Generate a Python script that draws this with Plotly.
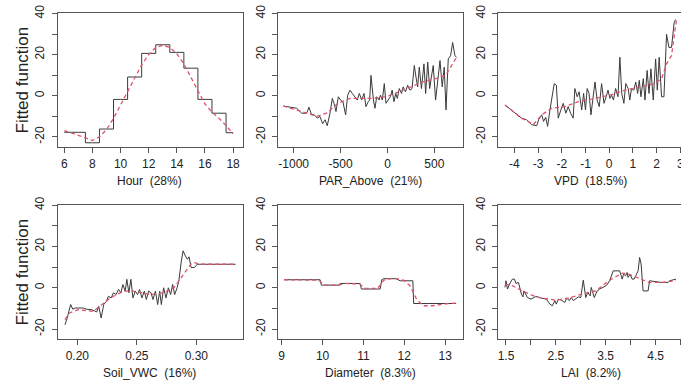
import plotly.graph_objects as go

# ---------------- data ----------------
hour_x = [6, 7, 8, 9, 10, 11, 12, 13, 14, 15, 16, 17, 18]
hour_y = [-17.8, -17.8, -22.9, -16.2, -1.8, 9.1, 20.6, 24.8, 21.1, 13.4, -1.8, -8.5, -18.0]
hour_sx = [6, 6.5, 7, 7.5, 8, 8.5, 9, 9.5, 10, 10.5, 11, 11.5, 12, 12.5, 13, 13.5,
           14, 14.5, 15, 15.5, 16, 16.5, 17, 17.5, 18]
hour_sy = [-17, -18, -19.3, -20.5, -21.8, -20, -16.5, -11, -4.5, 2, 9, 15, 20, 23.5, 24.5, 23.5,
           20.5, 15.5, 9, 2.5, -4, -8, -11, -14.5, -18.5]

par_x = [-1111, -968, -915, -862, -837, -809, -780, -748, -720, -691, -665, -642, -613, -588, -570,
         -549, -524, -500, -475, -446, -424, -400, -375, -350, -322, -300, -275, -250, -229, -205,
         -190, -176, -150, -133, -115, -90, -75, -55, -34, -16, 5, 30, 50, 69, 88, 105, 126, 150,
         168, 192, 215, 240, 262, 286, 304, 322, 339, 362, 389, 407, 429, 450, 468, 488, 513, 530,
         560, 584, 605, 624, 648, 673, 695, 719, 737]
par_y = [-5, -6.1, -8.5, -8.5, -5.6, -9.3, -9.3, -10.9, -10.1, -13.6, -11.7, -14.6, -8.5, -1.3, -3.7,
         -7.7, -0.5, -2.1, -2.9, -9.3, 0.3, 2.7, 1.1, -0.5, -2.1, 1.1, -2.1, 1.1, -5.3, -2.9,
         -2.1, 9.9, -2.1, -6.1, -0.5, -2.1, 0.3, -2.1, 5.9, -3.7, -2.1, -0.5, 2.7, -2.9, 1.1, -1.3,
         3.5, 1.1, 4.3, 1.9, 5.1, 2.7, 3.5, 14.7, 9.1, 4.3, 13.9, 3.5, 15.5, 1.1, 16.3, 3.5, 9.1,
         14.7, -2.1, 5.9, 17.1, 4.3, 13.9, -6.9, 17.9, 19.5, 25.9, 19.5, 18.7]
par_sx = [-1111, -862, -750, -650, -530, -400, -180, -10, 130, 250, 375, 515, 620, 670, 737]
par_sy = [-5, -8.5, -10, -8.5, -3.7, -1.3, -1.3, -0.5, 1.9, 4.3, 6.7, 8.3, 9.9, 13.9, 18.7]

vpd_x = [-4.40, -3.98, -3.70, -3.49, -3.27, -3.06, -2.97, -2.85, -2.77, -2.68, -2.60, -2.50, -2.32,
         -2.23, -2.15, -2.04, -1.94, -1.83, -1.73, -1.63, -1.52, -1.45, -1.35, -1.27, -1.16, -1.08,
         -1.00, -0.93, -0.85, -0.77, -0.68, -0.60, -0.51, -0.42, -0.32, -0.22, -0.13, -0.05, 0.03,
         0.10, 0.18, 0.27, 0.37, 0.45, 0.53, 0.62, 0.70, 0.80, 0.87, 0.94, 1.04, 1.12, 1.20, 1.27,
         1.34, 1.44, 1.51, 1.60, 1.68, 1.76, 1.86, 1.96, 2.03, 2.11, 2.21, 2.31, 2.42, 2.52, 2.63,
         2.74, 2.80]
vpd_y = [-4.5, -8.5, -10.9, -11.7, -14.1, -14.6, -11.5, -9.3, -12.5, -10.5, -14.9, -6.9, 5.9,
         5.1, -10.9, -6.9, -3.7, -8.5, -5.3, -8.5, -10.9, 3.5, -0.5, 1.9, -6.9, 1.1, -6.9, 3.5,
         1.1, -9.3, -0.5, 6.7, -2.1, -5.3, 5.9, -3.7, -0.5, 2.7, -1.3, 0.3, -2.1, 3.5, -0.5, 18.7,
         1.1, -3.7, 5.9, 3.5, -2.1, 3.5, 2.7, 6.7, 1.1, 7.5, -0.5, 8.3, -2.1, 12.3, 1.1, 13.1,
         -2.1, 17.9, 2.7, 18.7, -0.5, -0.5, 29.9, 23.5, 23.5, 35.5, 37.1]
vpd_sx = [-4.40, -3.98, -3.70, -3.42, -3.20, -2.85, -2.43, -1.87, -1.30, -0.60, 0.03, 0.66, 1.37,
          1.93, 2.21, 2.42, 2.63, 2.77, 2.84]
vpd_sy = [-4.5, -8.5, -10.9, -12.5, -14.1, -9.3, -6.1, -5.3, -2.9, -1.3, 0.3, 2.7, 4.3, 5.9, 8.3,
          15.5, 19.5, 29.9, 37.1]

soil_x = [0.1896, 0.1913, 0.1944, 0.1962, 0.1980, 0.2022, 0.2050, 0.2080, 0.2121, 0.2163, 0.2180,
          0.2200, 0.2222, 0.2244, 0.2261, 0.2284, 0.2304, 0.2326, 0.2346, 0.2366, 0.2383, 0.2402,
          0.2416, 0.2433, 0.2450, 0.2467, 0.2487, 0.2506, 0.2523, 0.2543, 0.2563, 0.2580, 0.2599,
          0.2619, 0.2636, 0.2656, 0.2675, 0.2692, 0.2706, 0.2725, 0.2745, 0.2765, 0.2784, 0.2801,
          0.2818, 0.2838, 0.2853, 0.2874, 0.2889, 0.2908, 0.2925, 0.2939, 0.2956, 0.2984, 0.3007,
          0.3100, 0.3200, 0.3330]
soil_y = [-17.9, -15.0, -8.1, -10.4, -9.8, -9.8, -9.8, -10.4, -10.6, -11.7, -9.0, -14.6, -8.1, -6.5,
          -4.1, -4.9, -2.4, -3.3, -0.8, -2.4, 1.6, -1.6, 4.1, -2.4, 4.1, -4.9, -1.6, -3.3, -0.8,
          -4.9, -1.6, -5.7, -1.6, -2.4, -5.7, -1.6, -8.1, -1.6, -8.1, 0, -4.9, 0, -3.3, 1.6,
          -3.3, 0, 3.3, 13.0, 17.9, 15.4, 13.8, 15.0, 9.8, 9.8, 11.4, 11.4, 11.4, 11.4]
soil_sx = [0.1896, 0.1935, 0.2008, 0.2135, 0.2190, 0.2277, 0.2390, 0.2475, 0.2615, 0.2728, 0.2812,
           0.2882, 0.2953, 0.2981, 0.3037, 0.3150, 0.3330]
soil_sy = [-15.4, -12.2, -10.6, -11.4, -8.9, -4.9, -1.6, -1.6, -3.3, -2.4, 0, 5.7, 11.4, 12.2,
           11.4, 11.4, 11.4]

diam_x = [9.06, 9.94, 9.97, 10.40, 10.43, 10.92, 10.95, 11.41, 11.45, 11.50, 11.80, 11.90, 12.21,
          12.23, 12.60, 13.27]
diam_y = [3.9, 3.9, 1.3, 1.3, 2.1, 2.1, -0.6, -0.6, 4.0, 4.4, 4.4, 3.4, 3.4, -7.6, -7.6, -7.6]
diam_sx = [9.06, 9.90, 10.05, 10.40, 10.55, 10.91, 11.03, 11.35, 11.50, 11.74, 11.98, 12.14, 12.30,
           12.46, 12.70, 12.95, 13.27]
diam_sy = [3.9, 3.7, 1.3, 1.3, 2.1, 1.8, -0.3, -0.3, 3.7, 4.7, 3.7, 1.0, -5.5, -8.7, -8.7, -7.9,
           -7.4]

lai_x = [1.48, 1.50, 1.53, 1.57, 1.63, 1.67, 1.70, 1.75, 1.81, 1.84, 1.86, 1.93, 2.00, 2.10, 2.21,
         2.31, 2.38, 2.43, 2.48, 2.51, 2.55, 2.61, 2.68, 2.72, 2.77, 2.81, 2.85, 2.90, 2.95, 3.00,
         3.05, 3.10, 3.14, 3.19, 3.21, 3.27, 3.33, 3.38, 3.45, 3.51, 3.58, 3.65, 3.78, 3.83, 3.86,
         3.90, 3.93, 3.95, 3.99, 4.03, 4.07, 4.15, 4.18, 4.21, 4.25, 4.35, 4.38, 4.48, 4.61, 4.75,
         4.78, 4.91]
lai_y = [0.2, 3.4, -0.6, 1.8, 4.2, 4.2, 2.1, 2.6, -3.1, -4.4, -1.5, -4.7, -5.5, -4.2, -5.0,
         -5.5, -7.9, -8.7, -6.2, -7.9, -5.5, -6.0, -7.1, -5.0, -6.2, -4.7, -6.2, -5.5, -4.4, -4.7,
         3.7, -4.7, -2.3, -3.9, 0.2, -4.7, -1.5, -0.6, 0.2, 1.0, 3.4, 8.2, 8.2, 4.2, 6.6, 5.8,
         7.4, 5.0, 6.6, 4.2, 4.2, 8.2, 14.7, 11.5, -1.5, -1.5, 3.4, 3.1, 2.6, 2.6, 3.4, 4.2]
lai_sx = [1.48, 1.63, 1.83, 2.10, 2.36, 2.50, 2.76, 3.03, 3.30, 3.56, 3.83, 3.96, 4.16, 4.36, 4.63,
          4.91]
lai_sy = [1.8, 1.0, -1.5, -4.4, -5.5, -6.0, -5.0, -3.0, -1.5, 3.4, 7.1, 6.6, 4.7, 2.6, 2.6, 3.4]

titles = ["Hour  (28%)", "PAR_Above  (21%)", "VPD  (18.5%)",
          "Soil_VWC  (16%)", "Diameter  (8.3%)", "LAI  (8.2%)"]
y_label = "Fitted function"

# ---------------- layout helpers ----------------
W, H = 681, 385
FONT = "Liberation Sans, Arial, Helvetica, sans-serif"
BLACK = "#3a3a3a"
RED = "#DF536B"
AX = "#555555"

col_px = [(57.7, 242.5), (278.3, 462.7), (498.3, 681.0)]
row_px = [(13.3, 146.7), (205.0, 339.0)]

x_ranges = [[5.53, 18.67], [-1164, 802], [-4.68, 3.03],
            [0.1835, 0.3388], [8.917, 13.43], [1.346, 5.01]]
x_ticks = [
    ([6, 8, 10, 12, 14, 16, 18], ["6", "8", "10", "12", "14", "16", "18"]),
    ([-1000, -500, 0, 500], ["-1000", "-500", "0", "500"]),
    ([-4, -3, -2, -1, 0, 1, 2, 3], ["-4", "-3", "-2", "-1", "0", "1", "2", "3"]),
    ([0.20, 0.25, 0.30], ["0.20", "0.25", "0.30"]),
    ([9, 10, 11, 12, 13], ["9", "10", "11", "12", "13"]),
    ([1.5, 2, 2.5, 3, 3.5, 4, 4.5, 5], ["1.5", "", "2.5", "", "3.5", "", "4.5", ""]),
]
y_tickvals = [-20, -10, 0, 10, 20, 30, 40]
y_ticktext = ["-20", "", "0", "", "20", "", "40"]
y_range = [-24.8, 40.1]

series = [(hour_x, hour_y, hour_sx, hour_sy, "hvh"),
          (par_x, par_y, par_sx, par_sy, "linear"),
          (vpd_x, vpd_y, vpd_sx, vpd_sy, "linear"),
          (soil_x, soil_y, soil_sx, soil_sy, "linear"),
          (diam_x, diam_y, diam_sx, diam_sy, "linear"),
          (lai_x, lai_y, lai_sx, lai_sy, "linear")]

fig = go.Figure()
annotations = []
for i, (bx, by, sx, sy, shape) in enumerate(series):
    r, c = divmod(i, 3)
    k = "" if i == 0 else str(i + 1)
    xa, ya = "x" + k, "y" + k
    fig.add_trace(go.Scatter(x=bx, y=by, mode="lines", xaxis=xa, yaxis=ya,
                             line=dict(color=BLACK, width=1, shape=shape), showlegend=False,
                             hoverinfo="skip"))
    fig.add_trace(go.Scatter(x=sx, y=sy, mode="lines", xaxis=xa, yaxis=ya,
                             line=dict(color=RED, width=1.3, dash="4px,3px"), showlegend=False,
                             hoverinfo="skip"))
    x0, x1 = col_px[c]
    y0, y1 = row_px[r]
    last_col = (c == 2)
    fig.layout["xaxis" + k] = dict(
        domain=[x0 / W, min(x1 / W, 1.0)], range=x_ranges[i], anchor=ya,
        tickvals=x_ticks[i][0], ticktext=x_ticks[i][1],
        showline=True, mirror=True, linecolor=AX, linewidth=1,
        ticks="outside", ticklen=5, tickcolor=AX, tickwidth=1,
        showgrid=False, zeroline=False, ticklabelstandoff=1,
        ticklabeloverflow="allow", automargin=False,
        tickfont=dict(family=FONT, size=12, color="#222"))
    fig.layout["yaxis" + k] = dict(
        domain=[1 - y1 / H, 1 - y0 / H], range=y_range, anchor=xa,
        tickvals=y_tickvals, ticktext=y_ticktext, tickangle=-90,
        showline=True, mirror=(not last_col), linecolor=AX, linewidth=1,
        ticks="outside", ticklen=5, tickcolor=AX, tickwidth=1,
        showgrid=False, zeroline=False, ticklabelstandoff=3,
        ticklabeloverflow="allow", automargin=False,
        tickfont=dict(family=FONT, size=12, color="#222"))
    box_w = 184.5
    cx = (x0 + box_w / 2) / W
    annotations.append(dict(text=titles[i], xref="paper", yref="paper", x=cx,
                            y=1 - (y1 + 34) / H, xanchor="center", yanchor="middle",
                            showarrow=False, font=dict(family=FONT, size=12, color="#222")))
    if c == 0:
        annotations.append(dict(text=y_label, xref="paper", yref="paper", x=21.5 / W,
                                y=1 - ((y0 + y1) / 2) / H, xanchor="center", yanchor="middle",
                                textangle=-90, showarrow=False,
                                font=dict(family=FONT, size=17, color="#222")))

fig.update_layout(width=W, height=H, margin=dict(l=0, r=0, t=0, b=0),
                  paper_bgcolor="white", plot_bgcolor="white",
                  annotations=annotations, font=dict(family=FONT))
fig.write_html("out.html", config={"displayModeBar": False},
               post_script="document.body.style.margin='0';document.body.style.overflow='hidden';")
